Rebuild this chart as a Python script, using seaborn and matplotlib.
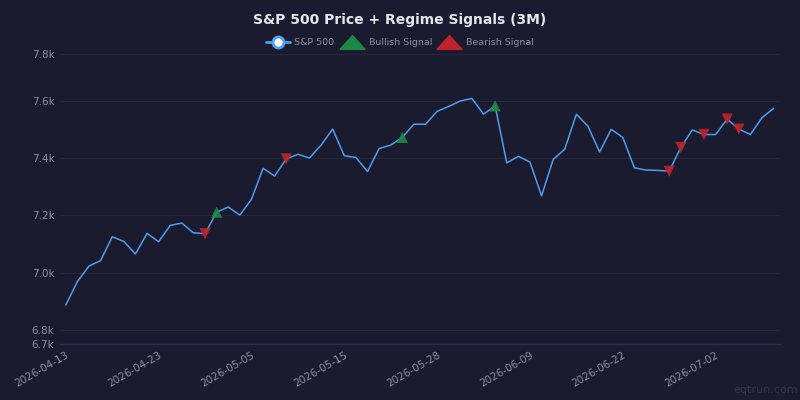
import numpy as np
import pandas as pd
import matplotlib
matplotlib.use('Agg')
import matplotlib.pyplot as plt
from matplotlib.lines import Line2D
from matplotlib.path import Path
import seaborn as sns

# Colours
BG = '#1a1b2e'
GRID = '#25283c'
TEXT = '#8b8fa3'
LINE = '#4f9ded'
BULL = '#1c8a45'
BEAR = '#bd242b'

# Trading days (NYSE calendar, holidays removed)
HOLIDAYS = ['2026-05-25', '2026-06-19', '2026-07-03']
DATES = pd.bdate_range('2026-04-13', '2026-07-10').drop(pd.to_datetime(HOLIDAYS))

PRICE = [6887, 6969, 7023, 7042, 7125, 7109, 7065, 7137, 7108, 7165,
         7173, 7139, 7136, 7211, 7229, 7201, 7256, 7364, 7337, 7397,
         7413, 7400, 7445, 7501, 7408, 7402, 7353, 7433, 7445, 7472,
         7518, 7518, 7563, 7580, 7599, 7608, 7553, 7582, 7383, 7406,
         7386, 7268, 7395, 7431, 7553, 7511, 7421, 7500, 7472, 7366,
         7358, 7357, 7354, 7437, 7498, 7482, 7482, 7536, 7501, 7482,
         7541, 7573]

BULL_DATES = ['2026-04-30', '2026-05-22', '2026-06-04']
BEAR_DATES = ['2026-04-29', '2026-05-08', '2026-06-26', '2026-06-29',
              '2026-07-01', '2026-07-06', '2026-07-07']

Y_MIN, Y_MAX = 6751, 7763
Y_TICKS = [Y_MIN, 6800, 7000, 7200, 7400, 7600, Y_MAX]
Y_LABELS = ['6.7k', '6.8k', '7.0k', '7.2k', '7.4k', '7.6k', '7.8k']
X_TICK_EVERY = 8

df = pd.DataFrame({'date': DATES, 'price': PRICE})
df['idx'] = np.arange(len(df))
bull = df[df['date'].isin(pd.to_datetime(BULL_DATES))]
bear = df[df['date'].isin(pd.to_datetime(BEAR_DATES))]

sns.set_theme(style='dark', rc={
    'figure.facecolor': BG,
    'axes.facecolor': BG,
    'axes.edgecolor': BG,
    'grid.color': GRID,
    'text.color': TEXT,
    'xtick.color': TEXT,
    'ytick.color': TEXT,
})
plt.rcParams['font.family'] = ['DejaVu Sans']

fig = plt.figure(figsize=(8, 4), dpi=100)
ax = fig.add_axes([0.075, 0.14, 0.9, 0.725])

sns.lineplot(data=df, x='idx', y='price', ax=ax, color=LINE, linewidth=1.1)
sns.scatterplot(data=bull, x='idx', y='price', ax=ax, marker='^', s=65,
                color=BULL, alpha=0.9, edgecolor='none', zorder=3)
sns.scatterplot(data=bear, x='idx', y='price', ax=ax, marker='v', s=65,
                color=BEAR, alpha=0.9, edgecolor='none', zorder=3)

ax.set_xlim(-0.5, len(df) - 0.45)
ax.set_ylim(Y_MIN, Y_MAX)
ax.set_yticks(Y_TICKS)
ax.set_yticklabels(Y_LABELS, fontsize=7.5)
xt = df['idx'][::X_TICK_EVERY]
ax.set_xticks(xt)
ax.set_xticklabels(df['date'][::X_TICK_EVERY].dt.strftime('%Y-%m-%d'),
                   rotation=30, ha='right', rotation_mode='anchor', fontsize=7.5)
ax.tick_params(axis='both', length=0, pad=4)
ax.set_xlabel('')
ax.set_ylabel('')
ax.grid(axis='y', color=GRID, linewidth=0.8)
ax.grid(axis='x', visible=False)
for s in ['top', 'right', 'left']:
    ax.spines[s].set_visible(False)
ax.spines['bottom'].set_color('#2c2f48')
ax.spines['bottom'].set_linewidth(1)

fig.text(0.5, 0.95, 'S&P 500 Price + Regime Signals (3M)', ha='center', va='center',
         fontsize=10, fontweight='bold', color='#e6e6ee')

tri_up = Path([(-1, -0.55), (1, -0.55), (0, 0.55), (-1, -0.55)])
handles = [
    Line2D([], [], color=LINE, lw=2, marker='o', markersize=8,
           markerfacecolor='white', markeredgecolor=LINE, markeredgewidth=2),
    Line2D([], [], color=BULL, lw=0, marker=tri_up, markersize=18),
    Line2D([], [], color=BEAR, lw=0, marker=tri_up, markersize=18),
]
fig.legend(handles, ['S&P 500', 'Bullish Signal', 'Bearish Signal'],
           loc='center', bbox_to_anchor=(0.5, 0.893), ncol=3, frameon=False,
           fontsize=6.8, labelcolor=TEXT, handlelength=2.5, handletextpad=0.5,
           columnspacing=0.6)

fig.text(0.998, 0.025, 'eqtrun.com', ha='right', va='center', fontsize=8,
         color='#33364a')

fig.savefig('out.png', dpi=100, facecolor=BG)
